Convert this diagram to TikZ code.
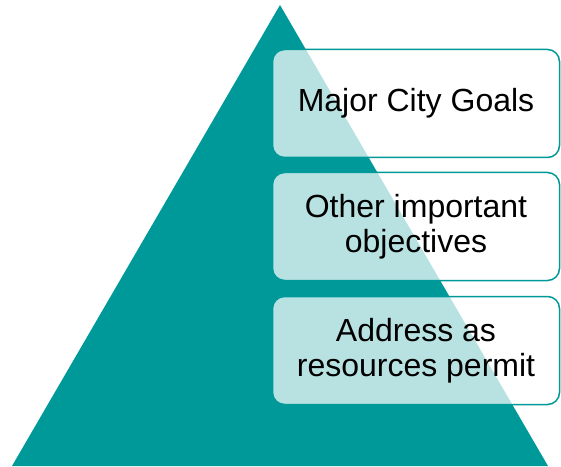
\documentclass[tikz,border=0pt]{standalone}
\usepackage{fontspec}
\setmainfont{Liberation Sans}
\usepackage{tikz}
\usetikzlibrary{positioning}
\definecolor{pyrteal}{RGB}{0,153,153}

\begin{document}
\begin{tikzpicture}[x=1pt, y=1pt,
        tier/.style={rounded corners=12pt, draw=pyrteal, line width=1.5pt,
                     fill=white, fill opacity=0.72, text opacity=1,
                     minimum width=287pt, minimum height=108pt,
                     align=center, font=\fontsize{32}{35}\selectfont}]
        \useasboundingbox (0,0) rectangle (561,466);
        \fill[pyrteal] (12,0) -- (280,461) -- (548,0) -- cycle;

        \node[tier] (goals)      at (416,362.5) {Major City Goals};
        \node[tier] (objectives) at (416,239.5) {Other important\\objectives};
        \node[tier] (resources)  at (416,115.5) {Address as\\resources permit};
    \end{tikzpicture}
\end{document}
